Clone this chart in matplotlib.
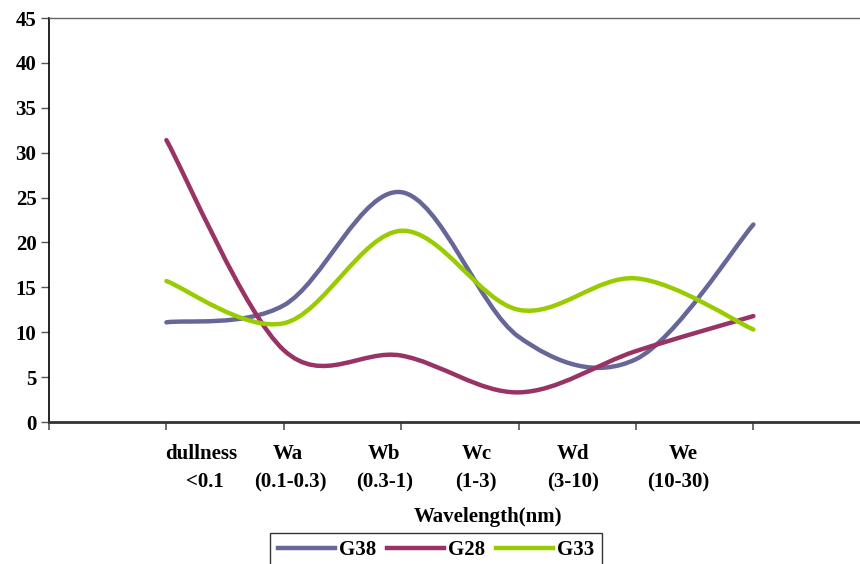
import numpy as np
import matplotlib
matplotlib.use("Agg")
import matplotlib.pyplot as plt
from matplotlib.path import Path
from matplotlib.patches import PathPatch
from matplotlib.lines import Line2D
import matplotlib.transforms as mtransforms

plt.rcParams['font.family'] = ['Liberation Serif', 'DejaVu Serif']
plt.rcParams['font.weight'] = 'bold'

categories = ["dullness\n<0.1", "Wa\n(0.1-0.3)", "Wb\n(0.3-1)", "Wc\n(1-3)", "Wd\n(3-10)", "We\n(10-30)"]
x_pos = [1, 2, 3, 4, 5, 6]
g38 = [11.1, 13.0, 25.6, 9.5, 7.0, 22.0]
g28 = [31.4, 8.0, 7.4, 3.3, 7.9, 11.8]
g33 = [15.7, 11.0, 21.3, 12.5, 16.0, 10.3]
series_names = ["G38", "G28", "G33"]
series_colors = ["#666699", "#993366", "#99CC00"]

# label text positions (data x) - the labels in the original sit offset from ticks
label_x_top = [1.30, 2.03, 2.85, 3.64, 4.46, 5.40]
label_x_bot = [1.33, 2.06, 2.86, 3.64, 4.46, 5.36]

FS = 15

fig = plt.figure(figsize=(8.6, 5.64), dpi=100)
ax = fig.add_axes([49/860, 142/564, 1 - 49/860, (422-18)/564])


def smooth_path(xs, ys):
    pts = np.column_stack([xs, ys]).astype(float)
    n = len(pts)
    verts = [pts[0]]
    codes = [Path.MOVETO]
    for i in range(n - 1):
        p0 = pts[i - 1] if i > 0 else pts[i]
        p1 = pts[i]
        p2 = pts[i + 1]
        p3 = pts[i + 2] if i + 2 < n else pts[i + 1]
        c1 = p1 + (p2 - p0) / 6.0
        c2 = p2 - (p3 - p1) / 6.0
        verts += [c1, c2, p2]
        codes += [Path.CURVE4] * 3
    return Path(verts, codes)


for vals, col in zip([g38, g28, g33], series_colors):
    patch = PathPatch(smooth_path(x_pos, vals), facecolor='none', edgecolor=col,
                      lw=3.2, capstyle='round', joinstyle='round', zorder=3)
    ax.add_patch(patch)

ax.set_xlim(0, (860 - 49) / 117.4)
ax.set_ylim(0, 45)
ax.set_yticks(range(0, 46, 5))
ax.set_xticks(range(0, 7))
ax.set_xticklabels([])
ax.tick_params(axis='y', length=6, width=1, direction='out', labelsize=FS, pad=3,
               color='#555555')
ax.tick_params(axis='x', length=6, width=1.2, direction='out', color='#555555')
for lab in ax.get_yticklabels():
    lab.set_fontweight('bold')

ax.spines['left'].set_color('black')
ax.spines['left'].set_linewidth(1.2)
ax.spines['bottom'].set_color('#333333')
ax.spines['bottom'].set_linewidth(2.0)
ax.spines['top'].set_color('#666666')
ax.spines['top'].set_linewidth(1.0)
ax.spines['right'].set_visible(False)

trans = mtransforms.blended_transform_factory(ax.transData, fig.transFigure)
for lxt, lxb, txt in zip(label_x_top, label_x_bot, categories):
    top, bot = txt.split("\n")
    ax.text(lxt, 1 - 454/564, top, transform=trans, ha='center', va='center',
            fontsize=FS, fontweight='bold')
    ax.text(lxb, 1 - 482/564, bot, transform=trans, ha='center', va='center',
            fontsize=FS, fontweight='bold')

fig.text(488/860, 1 - 517/564, "Wavelength(nm)", ha='center', va='center',
         fontsize=FS, fontweight='bold')

handles = [Line2D([], [], color=c, lw=3.2) for c in series_colors]
leg = fig.legend(handles, series_names, loc='upper center',
                 bbox_to_anchor=(436/860, 1 - 533/564), ncol=3, frameon=True,
                 fancybox=False, edgecolor='black', handlelength=2.75,
                 handletextpad=0.2, columnspacing=0.5, borderpad=0.35,
                 borderaxespad=0.0,
                 prop={'size': FS, 'weight': 'bold'})
leg.get_frame().set_linewidth(1.0)

fig.savefig("out.png", dpi=100)
